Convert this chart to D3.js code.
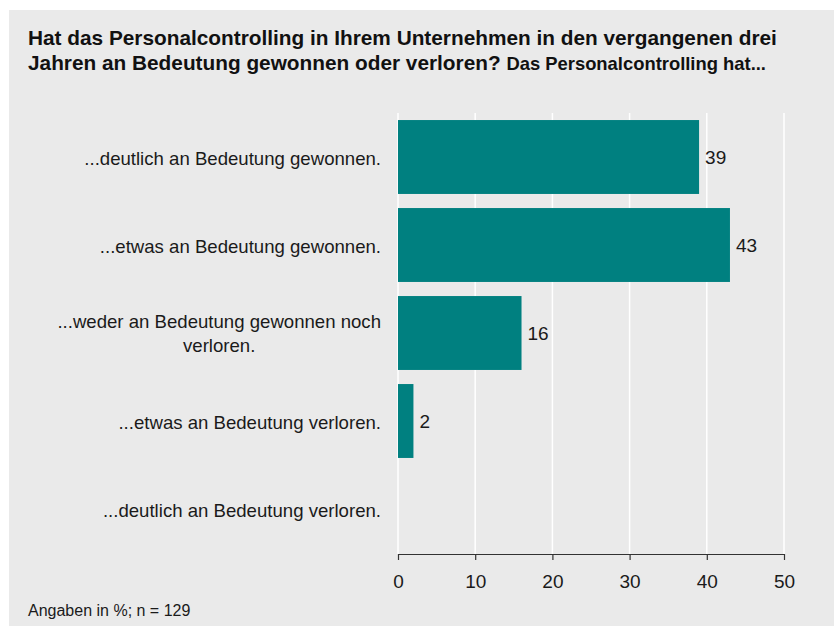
<!DOCTYPE html>
<html>
<head>
<meta charset="utf-8">
<script src="https://cdn.jsdelivr.net/npm/d3@7"></script>
<style>
  html, body { margin: 0; padding: 0; background: #ffffff; }
  svg { display: block; font-family: "Liberation Sans", Arial, Helvetica, sans-serif; }
</style>
</head>
<body>
<svg id="chart" width="834" height="627"></svg>
<script>
// Answer categories (top to bottom) and their shares in percent
const categories = [
  "...deutlich an Bedeutung gewonnen.",
  "...etwas an Bedeutung gewonnen.",
  "...weder an Bedeutung gewonnen noch|verloren.",
  "...etwas an Bedeutung verloren.",
  "...deutlich an Bedeutung verloren."
];
const values = [39, 43, 16, 2, null];
const tickValues = [0, 10, 20, 30, 40, 50];
const titleLine1 = "Hat das Personalcontrolling in Ihrem Unternehmen in den vergangenen drei";
const titleLine2 = "Jahren an Bedeutung gewonnen oder verloren?";
const subtitle = "Das Personalcontrolling hat...";
const footnote = "Angaben in %; n = 129";

const svg = d3.select("#chart");
const W = 834, H = 627;

// panel background
svg.append("rect").attr("x", 9).attr("y", 10).attr("width", W - 9).attr("height", H - 11)
  .attr("fill", "#eaeaea");

const x = d3.scaleLinear().domain([0, 50]).range([398, 784]);
const y = d3.scaleBand().domain(categories).range([113, 553]).paddingInner(0.16).paddingOuter(0.08);

// vertical white grid lines
svg.append("g").selectAll("line").data(tickValues).join("line")
  .attr("x1", d => x(d)).attr("x2", d => x(d))
  .attr("y1", 113).attr("y2", 554)
  .attr("stroke", "#ffffff").attr("stroke-width", 1.5);

// bars
const rows = categories.map((c, i) => ({ c, v: values[i] }));
svg.append("g").selectAll("rect").data(rows.filter(d => d.v != null)).join("rect")
  .attr("x", x(0))
  .attr("y", d => y(d.c))
  .attr("width", d => x(d.v) - x(0))
  .attr("height", y.bandwidth())
  .attr("fill", "#008080");

// value labels
svg.append("g").selectAll("text").data(rows.filter(d => d.v != null)).join("text")
  .attr("x", d => x(d.v) + 6)
  .attr("y", d => y(d.c) + y.bandwidth() / 2)
  .attr("dy", "0.38em")
  .attr("font-size", 19)
  .attr("fill", "#1a1a1a")
  .text(d => d.v);

// category labels: right-aligned block, lines centered within the block
const labelRight = 381;
const lg = svg.append("g").attr("font-size", 18.6).attr("fill", "#1a1a1a");
rows.forEach(d => {
  const lines = d.c.split("|");
  const cy = y(d.c) + y.bandwidth() / 2;
  const lh = 24;
  const t = lg.append("text").attr("text-anchor", "end");
  if (lines.length === 1) {
    t.attr("x", labelRight).attr("y", cy).attr("dy", "0.42em").text(lines[0]);
  } else {
    // measure widest line, then center all lines within that width
    const tmp = lg.append("text").text(lines[0]);
    const w = tmp.node().getComputedTextLength();
    tmp.remove();
    t.attr("text-anchor", "middle");
    lines.forEach((ln, i) => {
      t.append("tspan")
        .attr("x", labelRight - w / 2)
        .attr("y", cy + (i - (lines.length - 1) / 2) * lh)
        .attr("dy", "0.4em")
        .text(ln);
    });
  }
});

// x axis
const axis = svg.append("g").attr("transform", "translate(0,554)")
  .call(d3.axisBottom(x).tickValues(tickValues).tickSize(6).tickPadding(15).tickSizeOuter(0));
axis.select(".domain").attr("stroke", "#333333").attr("stroke-width", 1.2);
axis.selectAll(".tick line").attr("stroke", "#333333").attr("stroke-width", 1.2);
axis.selectAll(".tick text").attr("font-size", 19).attr("fill", "#1a1a1a")
  .attr("font-family", "Liberation Sans, Arial, sans-serif");

// title
svg.append("text").attr("x", 28).attr("y", 45)
  .attr("font-size", 20.8).attr("font-weight", "bold").attr("fill", "#111")
  .text(titleLine1);
const t2 = svg.append("text").attr("x", 28).attr("y", 70)
  .attr("font-weight", "bold").attr("fill", "#111");
t2.append("tspan").attr("font-size", 20.8).text(titleLine2 + " ");
t2.append("tspan").attr("font-size", 18.4).text(subtitle);

// footnote
svg.append("text").attr("x", 28).attr("y", 616)
  .attr("font-size", 16).attr("fill", "#1a1a1a").text(footnote);
</script>
</body>
</html>
